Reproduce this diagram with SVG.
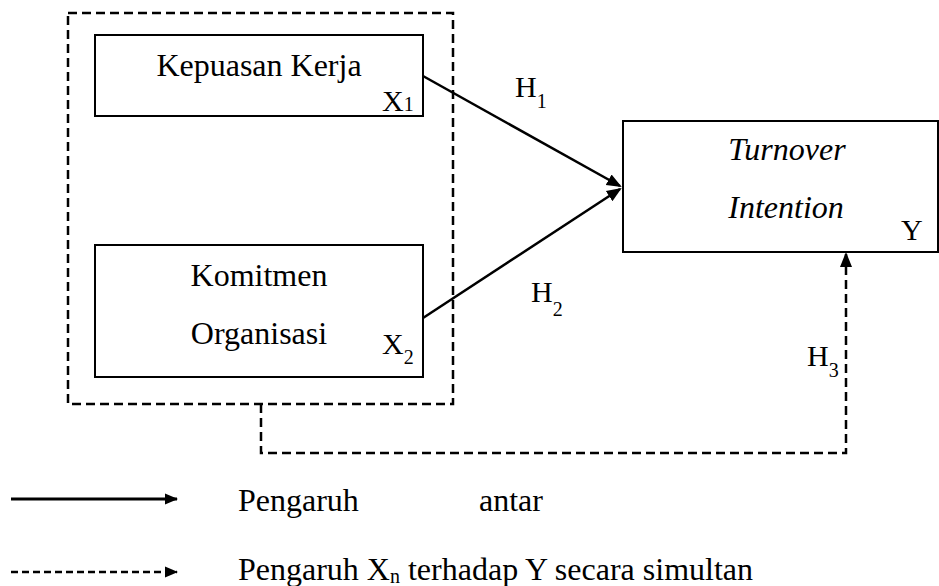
<svg xmlns="http://www.w3.org/2000/svg" width="939" height="586" viewBox="0 0 939 586">
<style>
text{font-family:"Liberation Serif","Times New Roman",serif;fill:#000}
.t{font-size:32px}
.lab{font-size:30px}
.sub{font-size:20px}
.box{fill:#fff;stroke:#000;stroke-width:2}
.solid{fill:none;stroke:#000;stroke-width:2.5}
.dash{fill:none;stroke:#000;stroke-width:2.5;stroke-dasharray:9 5}
</style>
<defs>
<marker id="ah" markerUnits="userSpaceOnUse" markerWidth="16" markerHeight="14" viewBox="0 0 16 14" refX="13" refY="7" orient="auto">
<path d="M0,1 L15,7 L0,13 z" fill="#000"/>
</marker>
<marker id="ahs" markerUnits="userSpaceOnUse" markerWidth="14" markerHeight="12" viewBox="0 0 14 12" refX="12" refY="6" orient="auto">
<path d="M0,0.5 L13,6 L0,11.5 z" fill="#000"/>
</marker>
</defs>
<rect width="939" height="586" fill="#fff"/>
<g id="group-x">
<rect x="68" y="13" width="385" height="391" class="dash"/>
</g>
<g id="node-x1">
<rect x="95" y="35" width="328" height="81" class="box"/>
<text x="259" y="76" class="t" text-anchor="middle">Kepuasan Kerja</text>
<text x="382" y="111" class="lab">X<tspan class="sub">1</tspan></text>
</g>
<g id="node-x2">
<rect x="95" y="245" width="328" height="132" class="box"/>
<text x="259" y="286" class="t" text-anchor="middle">Komitmen</text>
<text x="259" y="344" class="t" text-anchor="middle">Organisasi</text>
<text x="382" y="354" class="lab">X<tspan class="sub" dy="10">2</tspan></text>
</g>
<g id="node-y">
<rect x="623" y="121" width="315" height="131" class="box"/>
<text x="787" y="160" class="t" text-anchor="middle" font-style="italic">Turnover</text>
<text x="786" y="218" class="t" text-anchor="middle" font-style="italic">Intention</text>
<text x="901" y="240" class="lab">Y</text>
</g>
<g id="connectors">
<line x1="423" y1="76" x2="620" y2="186" class="solid" marker-end="url(#ah)"/>
<line x1="423" y1="318" x2="620" y2="189" class="solid" marker-end="url(#ah)"/>
<path d="M261,404 V453 H846 V254" class="dash" marker-end="url(#ah)"/>
</g>
<g id="labels">
<text x="515" y="97" class="lab">H<tspan class="sub" dy="11">1</tspan></text>
<text x="531" y="302" class="lab">H<tspan class="sub" dy="14">2</tspan></text>
<text x="807" y="366" class="lab">H<tspan class="sub" dy="11">3</tspan></text>
</g>
<g id="legend">
<line x1="11" y1="499" x2="177" y2="499" stroke="#000" stroke-width="3" marker-end="url(#ahs)"/>
<text x="238" y="511" class="t">Pengaruh</text>
<text x="479" y="511" class="t">antar</text>
<line x1="11" y1="572" x2="177" y2="572" stroke="#000" stroke-width="2.5" stroke-dasharray="7 4" marker-end="url(#ahs)"/>
<text x="238" y="580" class="t">Pengaruh X<tspan class="sub" dy="3">n</tspan><tspan dy="-3"> terhadap Y secara simultan</tspan></text>
</g>
</svg>
